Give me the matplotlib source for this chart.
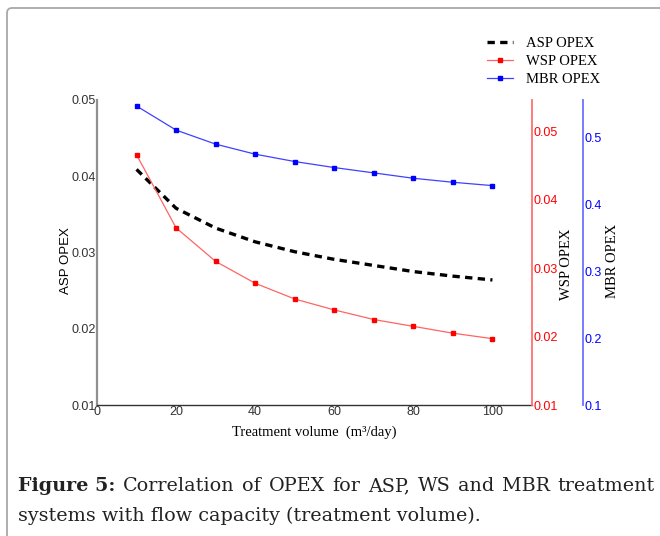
import matplotlib
matplotlib.use('Agg')
import matplotlib.pyplot as plt
from matplotlib.patches import FancyBboxPatch
from matplotlib.transforms import IdentityTransform

# data
volume = [10, 20, 30, 40, 50, 60, 70, 80, 90, 100]
asp_opex = [0.0409, 0.0358, 0.0332, 0.0314, 0.0301, 0.0291, 0.0283, 0.0275, 0.0269, 0.0264]
wsp_opex = [0.0466, 0.0359, 0.0310, 0.0278, 0.0255, 0.0239, 0.0225, 0.0215, 0.0205, 0.0197]
mbr_opex = [0.547, 0.511, 0.490, 0.475, 0.464, 0.455, 0.447, 0.439, 0.433, 0.428]

x_ticks = [0, 20, 40, 60, 80, 100]
asp_ticks = [0.01, 0.02, 0.03, 0.04, 0.05]
wsp_ticks = [0.01, 0.02, 0.03, 0.04, 0.05]
mbr_ticks = [0.1, 0.2, 0.3, 0.4, 0.5]

caption_head = 'Figure 5:'
caption_line1 = 'Correlation of OPEX for ASP, WS and MBR treatment'
caption_line2 = 'systems with flow capacity (treatment volume).'

sans = 'Liberation Sans'
serif = 'Liberation Serif'
cap_font = 'DejaVu Serif'

W, H = 660, 536
fig = plt.figure(figsize=(6.6, 5.36), dpi=100)

# gray frame around the figure box
frame = FancyBboxPatch((7, -60), 800, 596 - 8, boxstyle='round,pad=0,rounding_size=5',
                       transform=IdentityTransform(), facecolor='none',
                       edgecolor='#a8a8a8', linewidth=1.3)
fig.patches.append(frame)

ax = fig.add_axes([97 / W, 1 - 405 / H, 435 / W, 305 / H])
ax2 = ax.twinx()
ax3 = ax.twinx()

l1, = ax.plot(volume, asp_opex, color='black', linestyle=(0, (2.2, 1.6)), linewidth=2.4)
l2, = ax2.plot(volume, wsp_opex, color='#ff6464', linewidth=0.9, marker='s',
               markersize=3.5, markerfacecolor='#ff0000', markeredgecolor='#ff0000')
l3, = ax3.plot(volume, mbr_opex, color='#4040ff', linewidth=0.9, marker='s',
               markersize=3.5, markerfacecolor='#0000ff', markeredgecolor='#0000ff')

ax.set_xlim(0, 110)
ax.set_ylim(0.01, 0.05)
ax2.set_ylim(0.01, 0.0546)
ax3.set_ylim(0.1, 0.556)

ax.set_xticks(x_ticks)
ax.set_xticklabels([str(v) for v in x_ticks])
ax.set_yticks(asp_ticks)
ax.set_yticklabels(['%.2f' % v for v in asp_ticks])
ax2.set_yticks(wsp_ticks)
ax2.set_yticklabels(['%.2f' % v for v in wsp_ticks])
ax3.set_yticks(mbr_ticks)
ax3.set_yticklabels(['%.1f' % v for v in mbr_ticks])

for a in (ax, ax2, ax3):
    for s in a.spines.values():
        s.set_visible(False)
    a.set_facecolor('none')

ax.spines['left'].set_visible(True)
ax.spines['left'].set_color('#909090')
ax.spines['left'].set_linewidth(1.6)
ax.spines['bottom'].set_visible(True)
ax.spines['bottom'].set_color('#333333')
ax.spines['bottom'].set_linewidth(1.0)

ax2.spines['right'].set_visible(True)
ax2.spines['right'].set_color('#ff7070')
ax2.spines['right'].set_linewidth(1.3)

ax3.spines['right'].set_visible(True)
ax3.spines['right'].set_position(('axes', 486 / 435))
ax3.spines['right'].set_color('#7070ff')
ax3.spines['right'].set_linewidth(1.3)

ax.tick_params(axis='x', length=0, pad=1, labelsize=9, labelcolor='#333333')
ax.tick_params(axis='y', length=0, pad=1, labelsize=9, labelcolor='#333333')
ax2.tick_params(axis='y', length=0, pad=1, labelsize=9, labelcolor='#ff0000')
ax3.tick_params(axis='y', length=0, pad=1, labelsize=9, labelcolor='#0000ff')
for a in (ax, ax2, ax3):
    for t in a.get_xticklabels() + a.get_yticklabels():
        t.set_fontfamily(sans)

ax.set_ylabel('ASP OPEX', fontfamily=sans, fontsize=9.5)
ax.yaxis.set_label_coords(-(97 - 72) / 435, (405 - 261) / 305)
ax.set_xlabel('Treatment volume  (m³/day)', fontfamily=serif, fontsize=10.5, labelpad=5)
fig.text(567 / W, 1 - 264 / H, 'WSP OPEX', rotation=90, ha='center', va='center',
         fontfamily=serif, fontsize=10.5)
fig.text(613 / W, 1 - 261 / H, 'MBR OPEX', rotation=90, ha='center', va='center',
         fontfamily=serif, fontsize=10.5)

leg = fig.legend([l1, l2, l3], ['ASP OPEX', 'WSP OPEX', 'MBR OPEX'],
                 loc='upper left', bbox_to_anchor=(474 / W, 1 - 24 / H),
                 frameon=False, prop={'family': serif, 'size': 10.5},
                 handlelength=1.8, handletextpad=0.9, labelspacing=0.32)

# caption, first line justified between the frame margins
renderer = fig.canvas.get_renderer()
x_left, x_right = 18, 655
y1 = 1 - 486 / H
y2 = 1 - 516 / H
words = [(caption_head, 'bold')] + [(w, 'normal') for w in caption_line1.split()]
texts = []
for w, weight in words:
    t = fig.text(0, y1, w, fontfamily=cap_font, fontweight=weight, fontsize=13.8,
                 va='center', ha='left', color='#222222')
    texts.append(t)
widths = [t.get_window_extent(renderer).width for t in texts]
gap = (x_right - x_left - sum(widths)) / (len(texts) - 1)
x = x_left
for t, w in zip(texts, widths):
    t.set_x(x / W)
    x += w + gap
fig.text(x_left / W, y2, caption_line2, fontfamily=cap_font, fontsize=13.8,
         va='center', ha='left', color='#222222')

fig.savefig('out.png', dpi=100)
